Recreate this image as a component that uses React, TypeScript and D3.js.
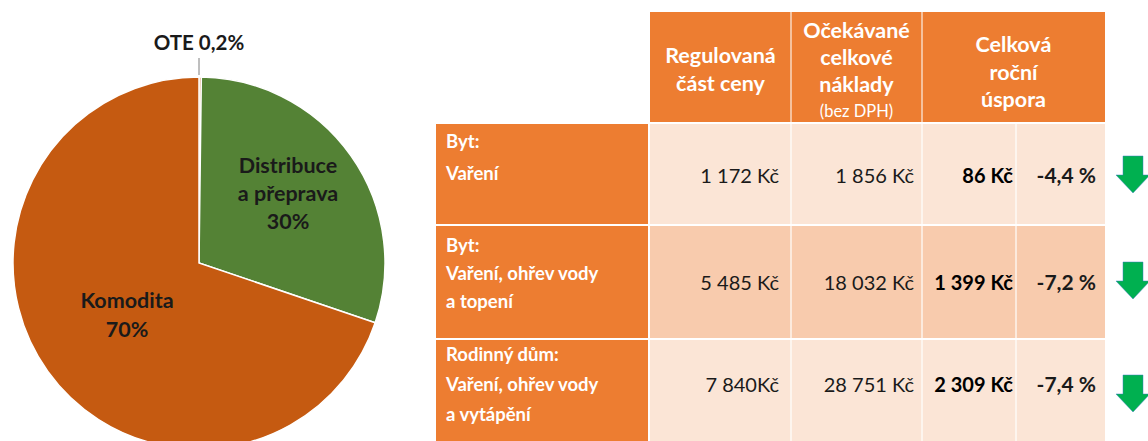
import React from "react";
import * as d3 from "d3";

const pieNames = ["OTE", "Distribuce", "Komodita"];
const pieValues = [0.2, 30, 69.8];
const pieLabelLines = [["OTE 0,2%"], ["Distribuce", "a přeprava", "30%"], ["Komodita", "70%"]];

const headerLines = [["Regulovaná", "část ceny"], ["Očekávané", "celkové", "náklady"], ["Celková", "roční", "úspora"]];
const headerNote = "(bez DPH)";
const rowLabels = [
  ["Byt:", "Vaření"],
  ["Byt:", "Vaření, ohřev vody", "a topení"],
  ["Rodinný dům:", "Vaření, ohřev vody", "a vytápění"],
];
const regulatedPart = ["1 172 Kč", "5 485 Kč", "7 840Kč"];
const totalCosts = ["1 856 Kč", "18 032 Kč", "28 751 Kč"];
const yearlySavings = ["86 Kč", "1 399 Kč", "2 309 Kč"];
const savingsPct = ["-4,4 %", "-7,2 %", "-7,4 %"];

const FONT = "Lato, 'Open Sans', sans-serif";

export default function App() {
  const W = 1148, H = 441;
  const cx = 199, cy = 263, R = 186;
  const pie = d3.pie<number>().sort(null).value((d) => d);
  const arcs = pie(pieValues);
  const arc = d3.arc<d3.PieArcDatum<number>>().innerRadius(0).outerRadius(R);
  const pieColors = ["#C55A11", "#548235", "#C55A11"];

  const colEdges = [650, 791, 922, 1016, 1105];
  const labelX0 = 436;
  const headerTop = 12, headerBottom = 122;
  const rowEdges = [[124, 224], [226, 338], [340, 441]];
  const rowFill = ["#FBE5D6", "#F8CBAD", "#FBE5D6"];
  const orange = "#ED7D31";
  const rowY = d3.scaleOrdinal<number, number>().domain([0, 1, 2]).range([183, 290, 392]);
  const hdr = 21.5;
  const val = 20;

  return (
    <svg width={W} height={H} style={{ position: "absolute", left: 0, top: 0 }} fontFamily={FONT}>
      <rect x={0} y={0} width={W} height={H} fill="#fff" />
      <g transform={`translate(${cx},${cy})`}>
        {arcs.map((a, i) => (
          <path key={pieNames[i]} d={arc(a) || ""} fill={pieColors[i]} stroke="#fff" strokeWidth={1.5} />
        ))}
      </g>
      <line x1={cx} x2={cx} y1={58} y2={cy - R - 2} stroke="#7f7f7f" strokeWidth={1} />
      <text x={cx} y={50} textAnchor="middle" fontWeight="bold" fontSize={20.5} fill="#1a1a1a">{pieLabelLines[0][0]}</text>
      {pieLabelLines[1].map((t, i) => (
        <text key={t} x={288} y={173 + i * 28} textAnchor="middle" fontWeight="bold" fontSize={21.5} fill="#1a1a1a">{t}</text>
      ))}
      {pieLabelLines[2].map((t, i) => (
        <text key={t} x={127} y={308 + i * 29} textAnchor="middle" fontWeight="bold" fontSize={21.5} fill="#1a1a1a">{t}</text>
      ))}

      <rect x={colEdges[0]} y={headerTop} width={colEdges[4] - colEdges[0]} height={headerBottom - headerTop} fill={orange} />
      <line x1={colEdges[1]} x2={colEdges[1]} y1={headerTop} y2={headerBottom} stroke="#fff" strokeWidth={1.5} opacity={0.7} />
      <line x1={colEdges[2]} x2={colEdges[2]} y1={headerTop} y2={headerBottom} stroke="#fff" strokeWidth={1.5} opacity={0.7} />
      {headerLines[0].map((t, i) => (
        <text key={t} x={(colEdges[0] + colEdges[1]) / 2} y={63 + i * 28} textAnchor="middle" fontWeight="bold" fontSize={hdr} fill="#fff">{t}</text>
      ))}
      {headerLines[1].map((t, i) => (
        <text key={t} x={(colEdges[1] + colEdges[2]) / 2} y={38 + i * 27} textAnchor="middle" fontWeight="bold" fontSize={hdr} fill="#fff">{t}</text>
      ))}
      <text x={(colEdges[1] + colEdges[2]) / 2} y={117} textAnchor="middle" fontSize={16.5} fill="#fff">{headerNote}</text>
      {headerLines[2].map((t, i) => (
        <text key={t} x={(colEdges[2] + colEdges[4]) / 2} y={52 + i * 27.5} textAnchor="middle" fontWeight="bold" fontSize={hdr} fill="#fff">{t}</text>
      ))}

      {rowLabels.map((lines, r) => {
        const [y0, y1] = rowEdges[r];
        const first = [148, 252, 361][r];
        const step = [32, 28, 30][r];
        const cy2 = rowY(r);
        const arrowTop = [156, 262, 375][r];
        const ax = 1133;
        const arrowPath = `M${ax - 10},${arrowTop} L${ax + 10},${arrowTop} L${ax + 10},${arrowTop + 19} L${ax + 17},${arrowTop + 19} L${ax},${arrowTop + 37} L${ax - 17},${arrowTop + 19} L${ax - 10},${arrowTop + 19} Z`;
        return (
          <g key={r}>
            <rect x={labelX0} y={y0} width={colEdges[0] - 2 - labelX0} height={y1 - y0} fill={orange} />
            <rect x={colEdges[0]} y={y0} width={colEdges[4] - colEdges[0]} height={y1 - y0} fill={rowFill[r]} />
            {[1, 2, 3].map((c) => (
              <line key={c} x1={colEdges[c]} x2={colEdges[c]} y1={y0} y2={y1} stroke="#fff" strokeWidth={1.5} opacity={0.8} />
            ))}
            {lines.map((t, i) => (
              <text key={i} x={446} y={first + i * step} fontWeight="bold" fontSize={18.5} fill="#fff">{t}</text>
            ))}
            <text x={779} y={cy2} textAnchor="end" fontSize={val} fill="#1a1a1a">{regulatedPart[r]}</text>
            <text x={914} y={cy2} textAnchor="end" fontSize={val} fill="#1a1a1a">{totalCosts[r]}</text>
            <text x={1013} y={cy2} textAnchor="end" fontWeight="bold" fontSize={val} fill="#000">{yearlySavings[r]}</text>
            <text x={1096} y={cy2} textAnchor="end" fontWeight="bold" fontSize={val + 1} fill="#1a1a1a">{savingsPct[r]}</text>
            <path d={arrowPath} fill="#00B050" stroke="#3b7dc4" strokeWidth={0.8} strokeOpacity={0.6} />
          </g>
        );
      })}
    </svg>
  );
}
